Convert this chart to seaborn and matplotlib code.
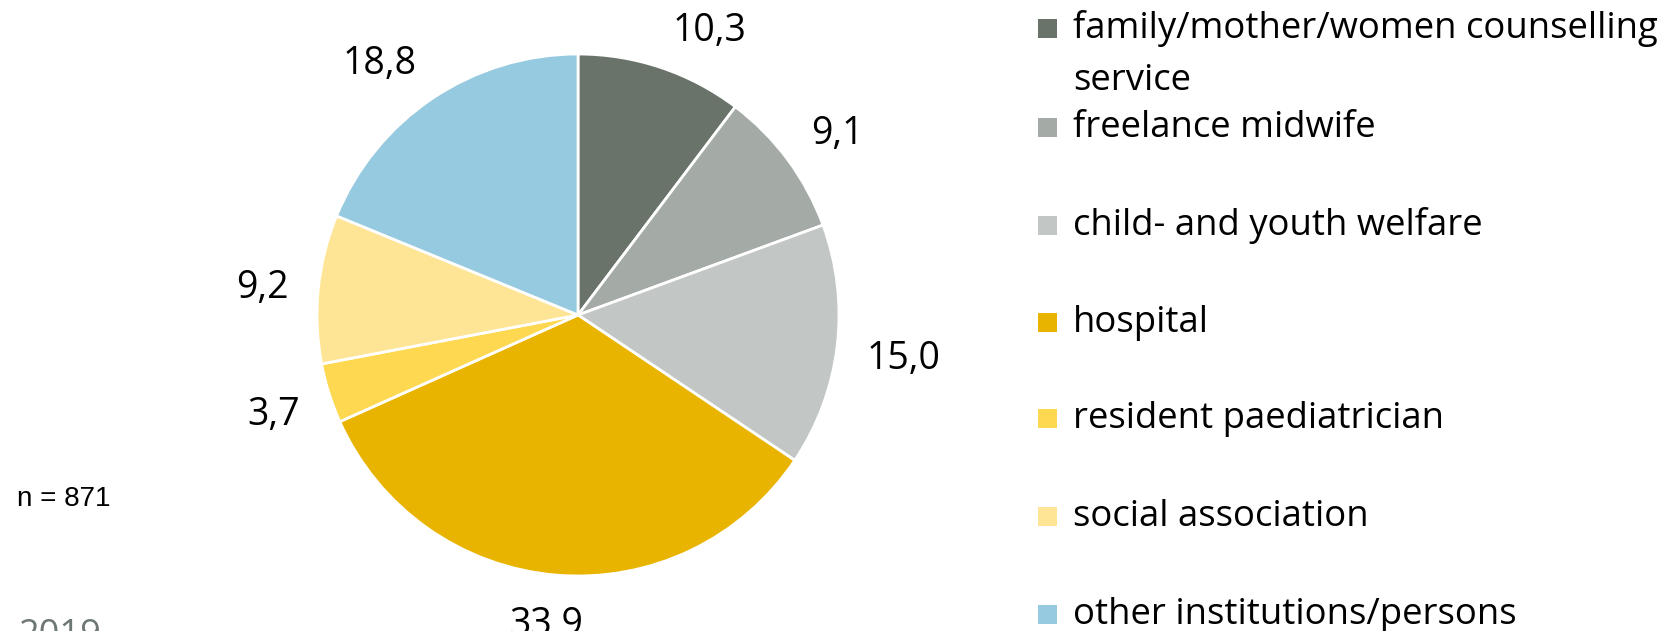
import matplotlib
matplotlib.use("Agg")
import numpy as np
import matplotlib.pyplot as plt
import seaborn as sns

categories = ["family/mother/women counselling", "freelance midwife", "child- and youth welfare",
              "hospital", "resident paediatrician", "social association", "other institutions/persons"]
values = [10.3, 9.1, 15.0, 33.9, 3.7, 9.2, 18.8]
colors_hex = ["#69736a", "#a4aaa5", "#c2c7c5", "#e9b400", "#fdd850", "#fee596", "#96cae0"]
n_label = "n = 871"
year_label = "2019"

sns.set_theme(style="white")
plt.rcParams['font.family'] = ['Open Sans', 'DejaVu Sans']

W, H = 1678, 631
fig = plt.figure(figsize=(W / 100, H / 100), dpi=100)

palette = sns.color_palette(colors_hex)
cx, cy, r = 578, 315, 261
half = 1.25 * r
ax = fig.add_axes([(cx - half) / W, (H - cy - half) / H, 2 * half / W, 2 * half / H])
labels = [f"{v:.1f}".replace(".", ",") for v in values]
wedges, texts = ax.pie(values, labels=labels, colors=palette, startangle=90, counterclock=False,
                       labeldistance=1.2, wedgeprops=dict(edgecolor="white", linewidth=2),
                       textprops=dict(fontsize=27, color="black"))
ax.set_xlim(-1.25, 1.25)
ax.set_ylim(-1.25, 1.25)
ax.set_aspect("equal")
ax.axis("off")

# place labels so that their box touches a circle slightly outside the pie
fig.canvas.draw()
renderer = fig.canvas.get_renderer()
edge = 1.11
angle_nudge = [-6, -1, 0, -1, 0, 0, 4]
for w, t, nud in zip(wedges, texts, angle_nudge):
    t.set_horizontalalignment("center")
    t.set_verticalalignment("center_baseline")
    bb = t.get_window_extent(renderer)
    tw = bb.width / r
    th = 0.72 * 27 * 100 / 72 / r
    ang = np.deg2rad((w.theta1 + w.theta2) / 2 + nud)
    dx, dy = np.cos(ang), np.sin(ang)
    support = abs(dx) * tw / 2 + abs(dy) * th / 2
    d = edge + support
    t.set_position((d * dx, d * dy))

# legend
baselines = [38, 137, 235, 332, 428, 526, 624]
sq = 19
for cat, col, yb in zip(categories, palette, baselines):
    fig.patches.append(plt.Rectangle((1038 / W, (H - yb) / H), sq / W, sq / H,
                                     transform=fig.transFigure, facecolor=col, edgecolor="none"))
    fig.text(1073 / W, (H - yb) / H, cat, fontsize=26.3, va="baseline", ha="left", color="black")
fig.text(1073 / W, (H - 90) / H, "service", fontsize=26.3, va="baseline", ha="left", color="black")

fig.text(17 / W, (H - 499) / H, n_label, fontsize=20, va="center", ha="left",
         family=["Liberation Sans"], color="black")
fig.text(18 / W, (H - 645) / H, year_label, fontsize=26, va="baseline", ha="left", color="#6e7873")

fig.savefig("out.png", dpi=100)
